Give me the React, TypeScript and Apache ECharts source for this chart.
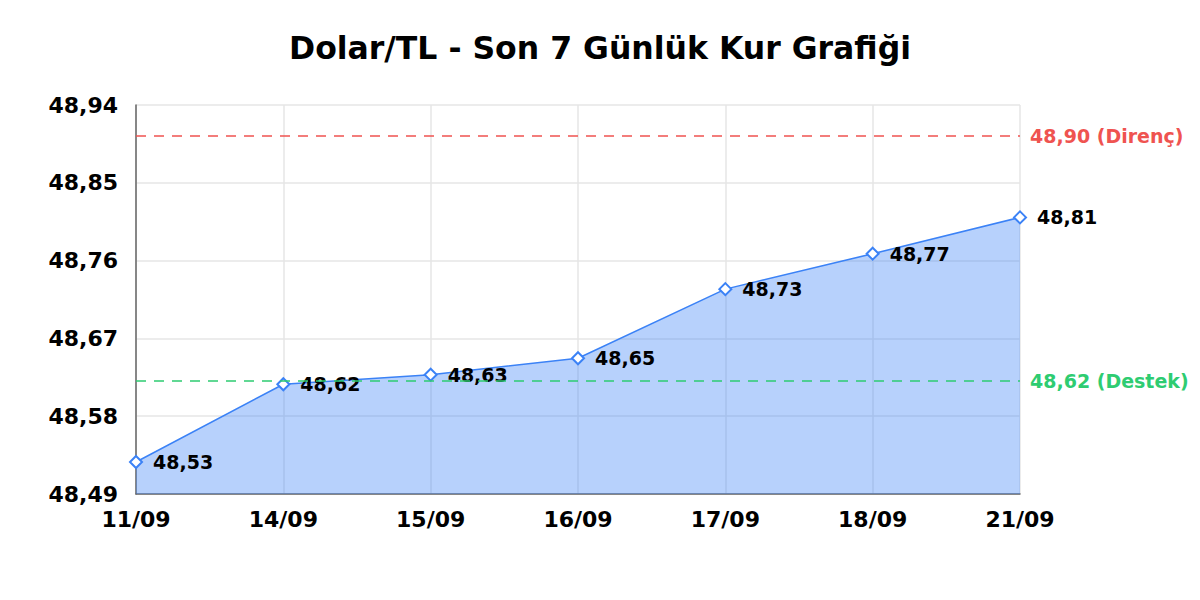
import React, { useEffect, useRef } from 'react';
import * as echarts from 'echarts';

const dates = ['11/09', '14/09', '15/09', '16/09', '17/09', '18/09', '21/09'];
const rates = [48.527, 48.617, 48.628, 48.647, 48.727, 48.768, 48.81];
const resistance = 48.904;
const support = 48.621;
const resistanceLabel = '48,90 (Direnç)';
const supportLabel = '48,62 (Destek)';

const fmt = (v: number) => v.toFixed(2).replace('.', ',');

export default function App() {
  const chartRef = useRef<HTMLDivElement>(null);

  useEffect(() => {
    if (!chartRef.current) return;
    const myChart = echarts.init(chartRef.current, null, { renderer: 'svg' });

    const option: echarts.EChartsOption = {
      animation: false,
      title: {
        text: 'Dolar/TL - Son 7 Günlük Kur Grafiği',
        left: 'center',
        top: 27,
        textStyle: {
          fontFamily: 'DejaVu Sans',
          fontWeight: 'bold',
          fontSize: 31.5,
          color: '#000',
        },
      },
      grid: { left: 136, right: 180, top: 105, bottom: 106 },
      xAxis: {
        type: 'category',
        boundaryGap: false,
        data: dates,
        axisLine: { lineStyle: { color: '#666', width: 1.5 } },
        axisTick: { show: false },
        splitLine: { show: true, lineStyle: { color: '#e6e6e6', width: 1.5 } },
        axisLabel: {
          margin: 14,
          fontFamily: 'DejaVu Sans',
          fontWeight: 'bold',
          fontSize: 22,
          color: '#000',
        },
      },
      yAxis: {
        type: 'value',
        min: 48.49,
        max: 48.94,
        interval: 0.09,
        axisLine: { show: true, lineStyle: { color: '#666', width: 1.5 } },
        axisTick: { show: false },
        splitLine: { lineStyle: { color: '#e6e6e6', width: 1.5 } },
        axisLabel: {
          margin: 18,
          fontFamily: 'DejaVu Sans',
          fontWeight: 'bold',
          fontSize: 22,
          color: '#000',
          formatter: (v: number) => fmt(v),
        },
      },
      series: [
        {
          type: 'line',
          data: rates,
          symbol: 'emptyDiamond',
          symbolSize: 12,
          lineStyle: { color: '#3b82f6', width: 1.5 },
          itemStyle: { color: '#3b82f6', borderWidth: 2.5 },
          areaStyle: { color: 'rgba(59,130,246,0.37)', opacity: 1 },
          label: {
            show: true,
            position: 'right',
            distance: 10,
            fontFamily: 'DejaVu Sans',
            fontWeight: 'bold',
            fontSize: 19,
            color: '#000',
            formatter: (p: any) => fmt(p.value),
          },
          markLine: {
            silent: true,
            symbol: 'none',
            precision: 3,
            data: [
              {
                yAxis: resistance,
                lineStyle: { color: '#ef5350', type: [10, 8], width: 1.5 },
                label: {
                  formatter: resistanceLabel,
                  color: '#ef5350',
                },
              },
              {
                yAxis: support,
                lineStyle: { color: '#2ecc71', type: [10, 8], width: 1.5 },
                label: {
                  formatter: supportLabel,
                  color: '#2ecc71',
                },
              },
            ],
            label: {
              position: 'end',
              distance: 10,
              fontFamily: 'DejaVu Sans',
              fontWeight: 'bold',
              fontSize: 19,
            },
          },
        },
      ],
    };

    myChart.setOption(option);

    return () => {
      myChart.dispose();
    };
  }, []);

  return <div ref={chartRef} style={{ width: 1200, height: 600, margin: -8 }} />;
}
